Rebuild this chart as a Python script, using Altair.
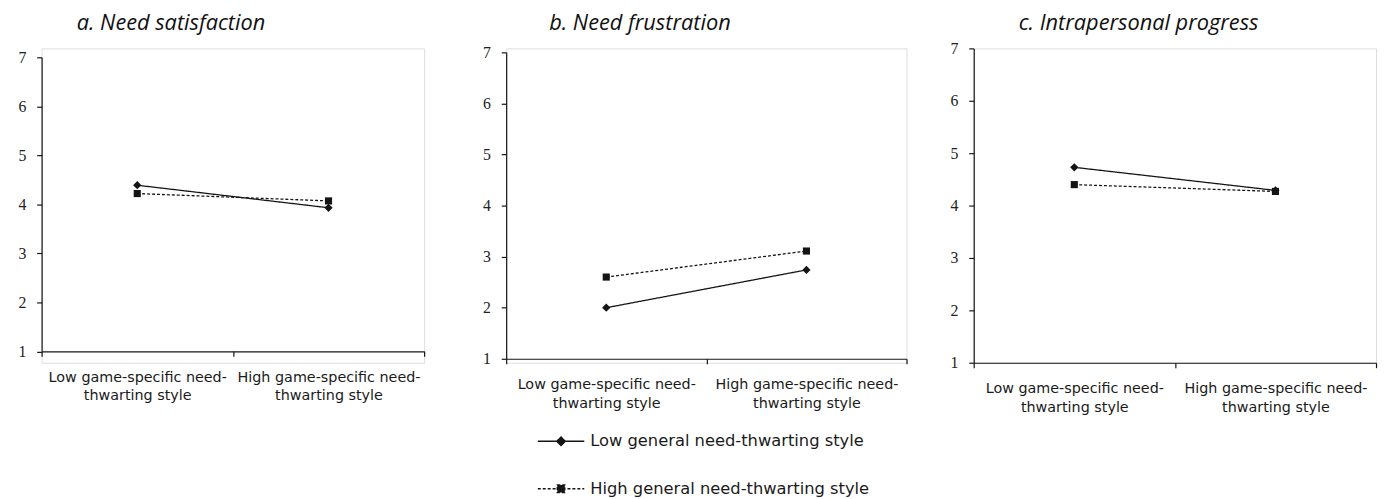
import altair as alt
import pandas as pd

# ---------------- data ----------------
categories = ["Low game-specific need-thwarting style",
              "High game-specific need-thwarting style"]
series = ["Low general need-thwarting style",
          "High general need-thwarting style"]
panel_titles = ["a. Need satisfaction", "b. Need frustration", "c. Intrapersonal progress"]

sat_low = [4.39, 3.93]
sat_high = [4.22, 4.07]
frus_low = [2.00, 2.74]
frus_high = [2.60, 3.11]
prog_low = [4.73, 4.29]
prog_high = [4.40, 4.27]

y_ticks = [1, 2, 3, 4, 5, 6, 7]


def make_df(low, high):
    rows = []
    for s, vals in zip(series, [low, high]):
        for c, v in zip(categories, vals):
            rows.append({"category": c, "series": s, "value": v})
    return pd.DataFrame(rows)


INK = "#141414"
LABEL_EXPR = ("[slice(datum.label, 0, indexof(datum.label, 'thwarting')), "
              "slice(datum.label, indexof(datum.label, 'thwarting'))]")

dashes = [[1, 0], [3, 2]]
shapes = ["diamond", "square"]
sizes = [70, 52]
legend_paths = [
    "M-1,0L1,0M0,-0.18L0.18,0L0,0.18L-0.18,0Z",
    "M-1,0L1,0M-0.16,-0.16L0.16,-0.16L0.16,0.16L-0.16,0.16Z",
]

PANEL_H = 318


def panel(df, title, width, y_range, x_offset, title_x, with_legend=False):
    x = alt.X(
        "category:N", sort=categories,
        scale=alt.Scale(type="band", domain=categories, paddingInner=0, paddingOuter=0),
        axis=alt.Axis(title=None, labelAngle=0, tickBand="extent", labelExpr=LABEL_EXPR,
                      labelFont="DejaVu Sans", labelFontSize=14.5, labelLineHeight=19,
                      labelColor="#1a1a1a", labelPadding=14, labelLimit=0, tickSize=5,
                      offset=x_offset,
                      domainColor=INK, tickColor=INK, domainWidth=1.2, tickWidth=1.2,
                      grid=False),
    )
    y = alt.Y(
        "value:Q",
        scale=alt.Scale(domain=[1, 7], nice=False, zero=False, range=y_range),
        axis=alt.Axis(title=title, titleAngle=0, titleX=title_x, titleY=-26,
                      titleAlign="left", titleBaseline="middle", titleFont="Open Sans",
                      titleFontStyle="italic", titleFontWeight="normal", titleFontSize=22,
                      titleColor="#111", titleAnchor="start",
                      values=y_ticks, format="d", labelFont="Liberation Serif",
                      labelFontSize=16, labelColor="#222", labelPadding=11, tickSize=5,
                      domainColor=INK, tickColor=INK, domainWidth=1.2, tickWidth=1.2,
                      grid=False),
    )
    base = alt.Chart(df).encode(x=x, y=y)
    layers = []
    for s, dash, shape, size in zip(series, dashes, shapes, sizes):
        sub = base.transform_filter(alt.datum.series == s)
        layers.append(sub.mark_line(color=INK, strokeWidth=1.3, strokeDash=dash))
        layers.append(sub.mark_point(shape=shape, filled=True, color=INK, size=size, opacity=1))
    if with_legend:
        leg = alt.Legend(title=None, orient="none", legendX=31, legendY=373,
                         direction="vertical", padding=0, rowPadding=0,
                         symbolSize=2209, labelFont="DejaVu Sans", labelFontSize=16.5,
                         labelColor="#1a1a1a", labelOffset=5, labelLimit=0)
        leg = alt.Legend(title=None, orient="none", legendX=31, legendY=373,
                         direction="vertical", padding=0, rowPadding=15,
                         symbolSize=2209, labelFont="DejaVu Sans", labelFontSize=16.5,
                         labelColor="#1a1a1a", labelOffset=5, labelLimit=0)
        hidden = alt.Chart(df).mark_point(
            filled=True, fill=INK, stroke=INK, strokeWidth=1.3, opacity=1, size=2209
        ).encode(
            x=x, y=y,
            shape=alt.Shape("series:N", scale=alt.Scale(domain=series, range=legend_paths), legend=leg),
            strokeDash=alt.StrokeDash("series:N", scale=alt.Scale(domain=series, range=dashes), legend=leg),
        ).transform_filter("false")
        layers.append(hidden)
    return alt.layer(*layers).properties(width=width, height=PANEL_H)


pa = panel(make_df(sat_low, sat_high), panel_titles[0], 387, [306.5, 9], -11.5, 35)
pb = panel(make_df(frus_low, frus_high), panel_titles[1], 405, [314, 4], -4, 43, with_legend=True)
pc = panel(make_df(prog_low, prog_high), panel_titles[2], 407, [PANEL_H, 0], 0, 45)

left = alt.hconcat(pa, pb, spacing=56).resolve_legend(shape="independent", strokeDash="independent")
chart = alt.hconcat(left, pc, spacing=41).resolve_legend(
    shape="independent", strokeDash="independent"
).properties(
    padding={"left": 9, "top": 0, "right": 0, "bottom": 0}
).configure_view(stroke=None).configure(background="white")

chart.save("out.html", embed_options={"renderer": "svg", "actions": False})
